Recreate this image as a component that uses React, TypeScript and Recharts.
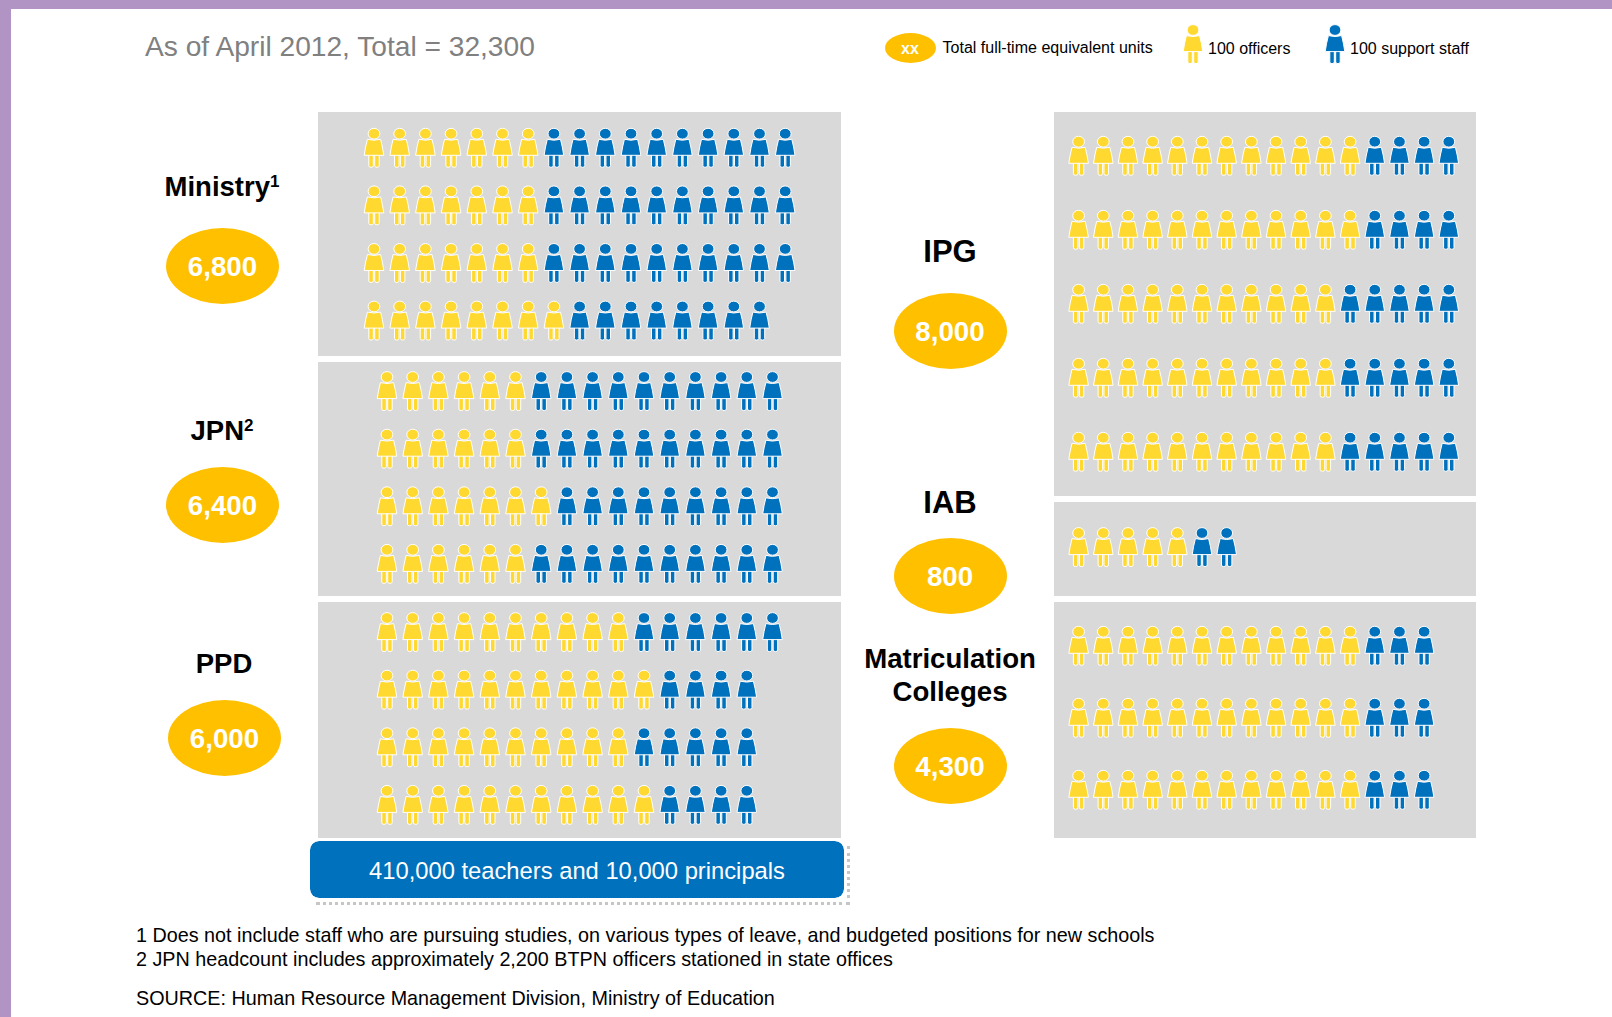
import React from 'react'
import { Scatter, ScatterChart, XAxis, YAxis } from 'recharts'

const OFFICER = '#FFD92F'
const SUPPORT = '#0071BC'
const ORANGE = '#FFC000'
const PANEL = '#D9D9D9'
const FONT = '"Liberation Sans", Arial, sans-serif'

// one person = 100 staff, each entry is one row of a block
const ministryOfficers = [7, 7, 7, 8]
const ministrySupport = [10, 10, 10, 8]
const jpnOfficers = [6, 6, 7, 6]
const jpnSupport = [10, 10, 9, 10]
const ppdOfficers = [10, 11, 10, 11]
const ppdSupport = [6, 4, 5, 4]
const ipgOfficers = [12, 12, 11, 11, 11]
const ipgSupport = [4, 4, 5, 5, 5]
const iabOfficers = [5]
const iabSupport = [2]
const matricOfficers = [12, 12, 12]
const matricSupport = [3, 3, 3]

const totals = ['6,800', '6,400', '6,000', '8,000', '800', '4,300']
const footnotes = [
  '1 Does not include staff who are pursuing studies, on various types of leave, and budgeted positions for new schools',
  '2 JPN headcount includes approximately 2,200 BTPN officers stationed in state offices',
]
const source = 'SOURCE: Human Resource Management Division, Ministry of Education'

const buildPoints = (officers: number[], support: number[]) => {
  const yellow: { col: number; row: number }[] = []
  const blue: { col: number; row: number }[] = []
  officers.forEach((count, row) => {
    for (let col = 0; col < count; col++) yellow.push({ col, row })
    for (let col = count; col < count + support[row]; col++) blue.push({ col, row })
  })
  return { yellow, blue }
}

const Person = (props: any) => {
  const { cx, cy, fill } = props
  return (
    <g transform={`translate(${cx},${cy})`} fill={fill} stroke="#fff" strokeWidth={1} strokeLinejoin="round">
      <path d="M-5.2 6 V18 Q-5.2 19.6 -3 19.6 Q-0.7 19.6 -0.7 18 V6 Z" />
      <path d="M0.7 6 V18 Q0.7 19.6 3 19.6 Q5.2 19.6 5.2 18 V6 Z" />
      <path d="M-6.6 -8.4 Q0 -6.6 6.6 -8.4 Q8.6 -1 9.8 7.6 H-9.8 Q-8.6 -1 -6.6 -8.4 Z" />
      <ellipse cx={0} cy={-14} rx={5.9} ry={5.4} />
    </g>
  )
}

interface BlockProps {
  left: number
  top: number
  width: number
  height: number
  firstX: number
  firstY: number
  stepX: number
  stepY: number
  officers: number[]
  support: number[]
  background?: string
}

const PeopleBlock: React.FC<BlockProps> = ({ left, top, width, height, firstX, firstY, stepX, stepY, officers, support, background }) => {
  const { yellow, blue } = buildPoints(officers, support)
  const x0 = -(firstX - left) / stepX
  const y0 = -(firstY - top) / stepY
  return (
    <div style={{ position: 'absolute', left, top, width, height, background }}>
      <ScatterChart width={width} height={height} margin={{ top: 0, right: 0, bottom: 0, left: 0 }}>
        <XAxis type="number" dataKey="col" hide allowDataOverflow domain={[x0, x0 + width / stepX]} />
        <YAxis type="number" dataKey="row" hide allowDataOverflow reversed domain={[y0, y0 + height / stepY]} />
        <Scatter data={yellow} fill={OFFICER} shape={Person} isAnimationActive={false} />
        <Scatter data={blue} fill={SUPPORT} shape={Person} isAnimationActive={false} />
      </ScatterChart>
    </div>
  )
}

const Label: React.FC<{ x: number; y: number; size: number; color?: string; bold?: boolean; center?: boolean; children: React.ReactNode }> = ({
  x,
  y,
  size,
  color = '#000',
  bold,
  center,
  children,
}) => (
  <div
    style={{
      position: 'absolute',
      left: x,
      top: y,
      transform: center ? 'translate(-50%, -50%)' : 'translateY(-50%)',
      fontFamily: FONT,
      fontSize: size,
      fontWeight: bold ? 700 : 400,
      color,
      whiteSpace: 'nowrap',
      lineHeight: 1,
    }}
  >
    {children}
  </div>
)

const Bubble: React.FC<{ x: number; y: number; w?: number; h?: number; size?: number; text: string }> = ({ x, y, w = 113, h = 76, size = 27.7, text }) => (
  <div
    style={{
      position: 'absolute',
      left: x - w / 2,
      top: y - h / 2,
      width: w,
      height: h,
      borderRadius: '50%',
      background: ORANGE,
      color: '#fff',
      fontFamily: FONT,
      fontWeight: 700,
      fontSize: size,
      lineHeight: `${h + 2}px`,
      textAlign: 'center',
    }}
  >
    {text}
  </div>
)

const Sup: React.FC<{ children: React.ReactNode }> = ({ children }) => (
  <sup style={{ fontSize: '62%', lineHeight: 0, verticalAlign: '0.55em' }}>{children}</sup>
)

export default function App() {
  return (
    <div style={{ position: 'absolute', left: 0, top: 0, width: 1612, height: 1017, background: '#fff', overflow: 'hidden' }}>
      <div style={{ position: 'absolute', left: 0, top: 0, width: 1612, height: 9, background: '#B294C4' }} />
      <div style={{ position: 'absolute', left: 0, top: 0, width: 11, height: 1017, background: '#B294C4' }} />

      <Label x={145} y={47} size={28.15} color="#808080">As of April 2012, Total = 32,300</Label>

      <Bubble x={910} y={48} w={51} h={30} size={16} text="xx" />
      <Label x={942.5} y={47} size={16.05}>Total full-time equivalent units</Label>
      <PeopleBlock left={1178} top={20} width={30} height={48} firstX={1193} firstY={44} stepX={25} stepY={50} officers={[1]} support={[0]} />
      <Label x={1208} y={48.5} size={16}>100 officers</Label>
      <PeopleBlock left={1320} top={20} width={30} height={48} firstX={1335} firstY={44} stepX={25} stepY={50} officers={[0]} support={[1]} />
      <Label x={1350} y={48.5} size={16}>100 support staff</Label>

      <PeopleBlock left={318} top={112} width={523} height={244} firstX={374} firstY={147.7} stepX={25.7} stepY={57.6} officers={ministryOfficers} support={ministrySupport} background={PANEL} />
      <PeopleBlock left={318} top={362} width={523} height={234} firstX={387} firstY={391} stepX={25.7} stepY={57.6} officers={jpnOfficers} support={jpnSupport} background={PANEL} />
      <PeopleBlock left={318} top={602} width={523} height={236} firstX={387} firstY={632} stepX={25.7} stepY={57.6} officers={ppdOfficers} support={ppdSupport} background={PANEL} />

      <PeopleBlock left={1054} top={112} width={422} height={384} firstX={1078.6} firstY={155.7} stepX={24.68} stepY={74} officers={ipgOfficers} support={ipgSupport} background={PANEL} />
      <PeopleBlock left={1054} top={502} width={422} height={94} firstX={1078.6} firstY={547} stepX={24.68} stepY={72} officers={iabOfficers} support={iabSupport} background={PANEL} />
      <PeopleBlock left={1054} top={602} width={422} height={236} firstX={1078.6} firstY={645.7} stepX={24.68} stepY={72} officers={matricOfficers} support={matricSupport} background={PANEL} />

      <Label x={222} y={187} size={27.5} bold center>Ministry<Sup>1</Sup></Label>
      <Bubble x={222.5} y={266} text={totals[0]} />
      <Label x={222} y={431} size={27.5} bold center>JPN<Sup>2</Sup></Label>
      <Bubble x={222.5} y={505} text={totals[1]} />
      <Label x={224} y={664} size={27.5} bold center>PPD</Label>
      <Bubble x={224.5} y={738} text={totals[2]} />

      <Label x={950} y={251} size={31} bold center>IPG</Label>
      <Bubble x={950} y={331} text={totals[3]} />
      <Label x={950} y={502} size={31} bold center>IAB</Label>
      <Bubble x={950} y={576} text={totals[4]} />
      <Label x={950} y={659} size={27.6} bold center>Matriculation</Label>
      <Label x={950} y={692} size={27.6} bold center>Colleges</Label>
      <Bubble x={950} y={766} text={totals[5]} />

      <div style={{ position: 'absolute', left: 316, top: 846, width: 531, height: 56, borderRight: '3px dotted #c6c6c6', borderBottom: '3px dotted #c6c6c6' }} />
      <div
        style={{
          position: 'absolute',
          left: 310,
          top: 841,
          width: 534,
          height: 57,
          borderRadius: 9,
          background: SUPPORT,
          color: '#fff',
          fontFamily: FONT,
          fontSize: 23.75,
          lineHeight: '59px',
          textAlign: 'center',
          outline: '1px solid #fff',
        }}
      >
        410,000 teachers and 10,000 principals
      </div>

      <Label x={136} y={936} size={19.75}>{footnotes[0]}</Label>
      <Label x={136} y={960} size={19.75}>{footnotes[1]}</Label>
      <Label x={136} y={999} size={19.75}>{source}</Label>
    </div>
  )
}
